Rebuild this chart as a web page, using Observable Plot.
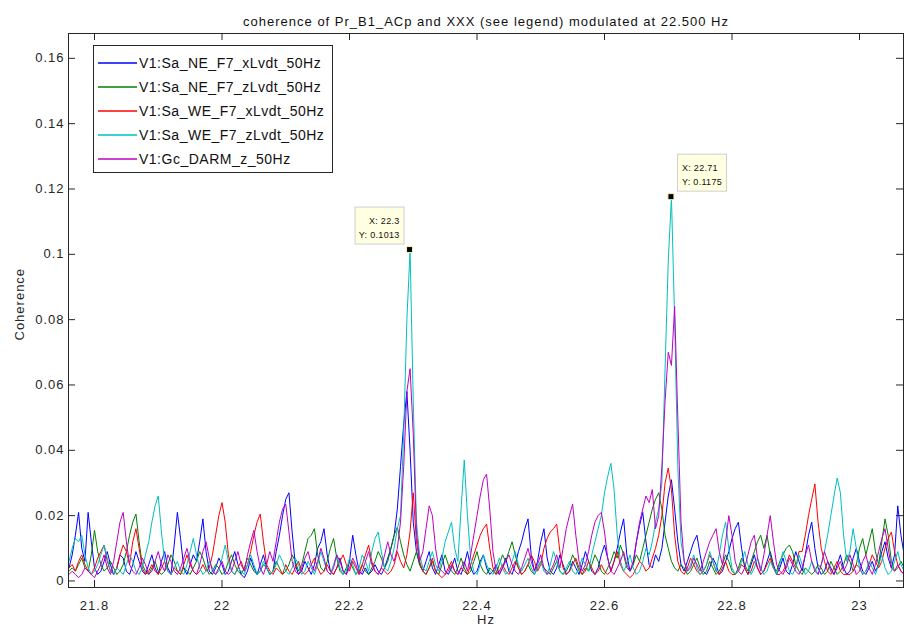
<!DOCTYPE html>
<html><head><meta charset="utf-8">
<script src="https://cdn.jsdelivr.net/npm/d3@7"></script>
<script src="https://cdn.jsdelivr.net/npm/@observablehq/plot@0.6"></script>
<style>html,body{margin:0;padding:0;background:#fff} svg{display:block}</style>
</head><body><div id="chart"></div>
<script>
// ---------- data ----------
const titleText = "coherence of Pr_B1_ACp and XXX (see legend) modulated at 22.500 Hz";
const xLabel = "Hz";
const yLabel = "Coherence";
const xTicks = [21.8, 22, 22.2, 22.4, 22.6, 22.8, 23];
const yTicks = [0, 0.02, 0.04, 0.06, 0.08, 0.1, 0.12, 0.14, 0.16];
const xDomain = [21.7592, 23.069];
const yDomain = [-0.002, 0.1676];

// frequency grid of the spectra (Hz)
const freqStart = 21.76, freqStep = 0.005;

const seriesNames = ["V1:Sa_NE_F7_xLvdt_50Hz", "V1:Sa_NE_F7_zLvdt_50Hz", "V1:Sa_WE_F7_xLvdt_50Hz", "V1:Sa_WE_F7_zLvdt_50Hz", "V1:Gc_DARM_z_50Hz"];
const seriesColors = ["#0000ff", "#008000", "#ff0000", "#00bfbf", "#bf00bf"];

// coherence values, in units of 1e-3
const sa_NE_xLvdt = [4,8,14,21,10,6,21,12,4,2, 3,6,9,5,2,4,8,7,3,2, 5,9,6,3,2,5,8,4,2,6, 9,4,2,11,21,13,4,2,5,8,
 6,12,19,9,3,2,4,7,5,2, 3,6,9,5,2,1,3,7,4,2, 5,8,4,2,3,9,14,20,25,27, 15,5,2,3,6,4,2,5,10,12,
 16,8,3,2,4,7,3,2,6,14, 8,3,2,4,2,3,5,3,2,4, 7,10,14,22,35,48,58,40,18,9, 5,3,6,9,4,2,5,8,3,2,
 4,7,3,2,5,9,4,2,3,6, 8,4,2,3,5,2,4,7,3,2, 5,9,12,16,19,8,3,6,12,16, 7,3,2,4,8,5,2,3,6,4,
 2,5,9,6,3,2,4,8,11,7, 3,6,10,15,19,8,3,5,12,17, 21,12,5,4,8,6,10,18,26,31, 22,12,5,3,6,9,12,14,8,3,
 2,4,7,5,2,3,6,9,13,16, 18,10,4,2,5,8,4,2,3,6, 9,5,2,4,7,3,2,5,9,6, 3,8,14,18,10,4,2,3,6,4,
 2,5,8,4,2,3,7,10,6,3, 2,4,6,3,5,9,12,7,4,8, 23,14,8];
const sa_NE_zLvdt = [3,4,3,5,7,4,3,8,15.5,9, 5,3,4,6,4,2,3,5,9,14, 18,20.5,12,5,3,2,4,6,3,2, 3,5,8,6,3,2,4,3,2,4,
 6,9,7,4,2,3,5,4,2,3, 6,8,5,3,2,4,7,5,3,2, 3,5,4,2,3,6,4,2,3,5, 8,6,3,5,9,13,14,16,8,4,
 3,6,10,13,7,3,2,4,6,4, 2,3,5,3,2,4,6,9,7,4, 6,10,14,16.5,12,8,5,3,6,9, 5,3,2,4,6,3,2,5,8,5,
 3,2,4,7,4,2,3,6,9,5, 3,2,4,3,2,5,8,6,9,12, 8,4,2,3,5,3,2,4,6,4, 3,2,4,6,3,2,3,5,8,6,
 3,2,4,3,5,8,6,3,2,4, 6,9,7,11,8,4,3,5,8,6, 10,14,18,22,25,27,22,14,10,6, 4,3,5,4,2,3,5,7,4,2,
 3,6,4,2,3,5,8,6,3,2, 4,7,5,3,6,9,12,14,10,14, 8,4,3,6,8,10,11,9,5,3, 2,4,3,2,3,5,4,2,3,6,
 4,2,3,5,8,6,3,5,10,13, 8,12,16,9,5,12,19,14,6,3, 4,6,4];
const sa_WE_xLvdt = [4,5,3,6,8,5,3,2,4,7, 9,11,6,3,2,4,8,11,9,5, 12,16,10,4,2,3,5,3,2,4, 6,3,2,4,3,2,5,8,5,3,
 2,3,5,3,4,8,14,20,24,18, 8,3,2,4,6,3,5,9,14,18, 20.5,12,5,3,2,4,3,2,5,3, 2,4,6,3,2,3,5,7,4,2,
 3,5,3,2,4,6,8,5,3,6, 4,2,5,8,11,6,3,2,4,3, 2,3,5,9,6,4,8,15,27,12, 6,3,2,4,7,3,2,1,2,4,
 6,3,2,4,3,2,5,8,11,14, 16,17.4,10,4,2,3,5,3,2,4, 6,4,2,3,5,8,6,3,5,10, 13,15,16,17.4,9,4,2,3,5,7,
 4,2,3,6,4,2,3,5,3,2, 3,6,9,5,3,2,1,2,4,6, 5,3,4,7,10,14,20,30,34.6,28, 14,6,3,2,4,7,5,3,2,3,
 5,8,6,3,2,4,6,3,2,2, 3,5,4,2,3,6,4,2,3,5, 7,4,2,2,3,5,8,6,4,9, 9,14,20,25,29.7,18,10,6,3,2,
 4,6,3,2,2,2,3,5,4,2, 3,5,8,6,4,6,10,13,15,9, 5,3,2];
const sa_WE_zLvdt = [6,10,13,12,14,8,4,2,3,5, 8,11,7,3,2,4,3,2,5,8, 6,3,2,4,8,12,18,23,26,15, 6,3,2,4,6,3,2,5,9,13,
 8,4,2,3,6,4,2,3,7,11, 6,3,2,4,3,2,5,8,5,2, 3,6,4,2,3,5,8,6,3,2, 4,7,5,2,3,6,4,2,5,9,
 6,3,2,5,8,4,2,3,7,5, 2,4,8,6,3,9,13,15,9,4, 3,6,10,16,20,45,80,101.3,55,18, 8,4,3,6,9,5,3,7,12,15,
 18,10,6,22,37,20,7,3,2,5, 8,5,3,2,4,7,4,2,3,6, 9,5,3,5,7,4,2,4,6,3, 2,5,9,6,3,2,4,6,3,2,
 4,7,5,3,8,12,16,20,27,32, 36,28,14,6,3,5,8,4,2,3, 6,10,8,12,18,22,30,65,98,117.5, 80,35,12,6,3,5,8,4,2,3,
 5,9,6,3,8,14,18,10,4,2, 3,6,9,5,2,4,7,4,2,3, 6,4,2,5,9,6,3,2,4,8, 5,2,3,6,4,2,5,9,14,20,
 26,31.5,27,14,6,9,16,10,4,2, 3,6,4,2,5,8,4,2,3,6, 9,5,3];
const gc_DARM_z = [2,3,2,1,2,4,3,2,1,3, 5,8,4,2,6,12,18,21,12,5, 3,2,4,7,5,2,3,6,9,5, 3,8,6,3,2,4,7,10,6,3,
 2,5,9,12,7,3,2,4,6,3, 2,3,6,9,5,3,8,12,15.5,9, 4,2,5,9,6,12,18,22,23.5,15, 6,3,2,4,7,9,5,3,6,10,
 7,3,2,4,8,6,3,2,4,7, 5,2,3,6,9,5,3,2,4,8, 12,8,6,10,18,35,58,65,45,15, 6,9,16,23,20,10,4,3,2,3,
 5,3,2,4,6,3,8,14,20,26, 31,32.7,22,9,3,2,4,6,8,5, 3,2,4,7,10,6,3,5,8,4, 2,3,5,8,4,10,16,20,23.5,14,
 6,3,5,9,14,18,20,21,15,7, 3,2,4,6,9,5,3,6,12,18, 22,26,24,28,16,20,35,55,70,66, 84,50,18,6,3,4,7,5,3,6,
 9,12,14,16,9,5,12,20,14,6, 3,2,4,8,12,14,7,3,8,14, 20,12,5,3,2,4,7,5,3,2, 4,8,11,6,3,2,5,9,6,3,
 2,4,6,3,5,8,5,2,3,6, 8,4,2,5,9,13,16,10,4,3, 5,3,2];
const seriesValues = [sa_NE_xLvdt, sa_NE_zLvdt, sa_WE_xLvdt, sa_WE_zLvdt, gc_DARM_z];

// data tips (on V1:Sa_WE_F7_zLvdt_50Hz)
const tipFreq = [22.295, 22.705];
const tipCoh = [0.1013, 0.1175];
const tipXText = ["22.3", "22.71"];
const tipYText = ["0.1013", "0.1175"];
const tipSide = ["left", "right"];

// ---------- layout / style ----------
const W = 904, H = 632, mT = 33, mB = 45, mL = 68, mR = 1;
const frameW = W - mL - mR, frameH = H - mT - mB, tickLen = 7;
const axisColor = "#262626";
const font = "'Liberation Sans', Arial, Helvetica, sans-serif";

const rows = seriesValues.flatMap((vals, s) => vals.map((v, i) => ({
  series: seriesNames[s], freq: +(freqStart + i * freqStep).toFixed(4), coh: v / 1000
})));

function tipMark(index, scales) {
  const g = d3.create("svg:g").attr("font-family", font).attr("font-size", 9)
    .style("letter-spacing", "0.3px").attr("fill", "#111");
  tipFreq.forEach((f, k) => {
    const px = scales.x(f), py = scales.y(tipCoh[k]);
    const left = tipSide[k] === "left";
    const bw = 49, bh = 37;
    const bx = left ? px - 6 - bw : px + 6;
    const by = py - 6 - bh;
    g.append("rect").attr("x", bx + 0.5).attr("y", by + 0.5).attr("width", bw).attr("height", bh)
      .attr("fill", "#ffffe1").attr("stroke", "#cfcfcf");
    const tx = left ? bx + bw - 4 : bx + 5;
    const anchor = left ? "end" : "start";
    g.append("text").attr("x", tx).attr("y", by + 14).attr("dy", "0.35em").attr("text-anchor", anchor).text("X: " + tipXText[k]);
    g.append("text").attr("x", tx).attr("y", by + 28).attr("dy", "0.35em").attr("text-anchor", anchor).text("Y: " + tipYText[k]);
    g.append("rect").attr("x", px - 3).attr("y", py - 3).attr("width", 6).attr("height", 6)
      .attr("fill", "#000").attr("stroke", "#f4f0c0").attr("stroke-width", 1);
  });
  return g.node();
}

function legendMark(index, scales, values, dims) {
  const x0 = dims.marginLeft + 25, y0 = dims.marginTop + 12, w = 239, h = 127;
  const g = d3.create("svg:g").attr("font-family", font).attr("font-size", 14)
    .attr("text-anchor", "start").style("letter-spacing", "0.5px");
  g.append("rect").attr("x", x0 + 0.5).attr("y", y0 + 0.5).attr("width", w).attr("height", h)
    .attr("fill", "#fff").attr("stroke", axisColor);
  seriesNames.forEach((name, s) => {
    const cy = y0 + 18 + s * 24;
    g.append("line").attr("x1", x0 + 5).attr("x2", x0 + 44).attr("y1", cy).attr("y2", cy)
      .style("stroke", seriesColors[s]).style("stroke-width", "1.3px");
    g.append("text").attr("x", x0 + 46).attr("y", cy).attr("dy", "0.36em")
      .attr("text-anchor", "start").attr("fill", "#111").text(name);
  });
  return g.node();
}

const plot = Plot.plot({
  width: W, height: H,
  marginTop: mT, marginBottom: mB, marginLeft: mL, marginRight: mR,
  style: {fontFamily: font, fontSize: "13px", letterSpacing: "1px", color: axisColor, background: "#fff", overflow: "visible"},
  x: {domain: xDomain},
  y: {domain: yDomain},
  marks: [
    ...seriesNames.map((name, s) => Plot.line(rows.filter(r => r.series === name),
      {x: "freq", y: "coh", stroke: seriesColors[s], strokeWidth: 1, clip: true})),
    Plot.frame({stroke: axisColor}),
    Plot.tickX(xTicks, {x: d => d, insetTop: frameH - tickLen, stroke: axisColor}),
    Plot.tickX(xTicks, {x: d => d, insetBottom: frameH - tickLen, stroke: axisColor}),
    Plot.tickY(yTicks, {y: d => d, insetRight: frameW - tickLen, stroke: axisColor}),
    Plot.tickY(yTicks, {y: d => d, insetLeft: frameW - tickLen, stroke: axisColor}),
    Plot.axisX(xTicks, {anchor: "bottom", tickSize: 0, tickPadding: 13, tickFormat: d => String(d), label: null, color: axisColor}),
    Plot.axisY(yTicks, {anchor: "left", tickSize: 0, tickPadding: 4, tickFormat: d => String(d), label: null, color: axisColor}),
    Plot.text([xLabel], {frameAnchor: "bottom", dy: 36, text: d => d, fill: axisColor, fontSize: 13}),
    Plot.text([yLabel], {frameAnchor: "left", dx: -49, dy: 30, rotate: -90, text: d => d, fill: axisColor, fontSize: 13}),
    Plot.text([titleText], {frameAnchor: "top", dy: -17, text: d => d, fill: "#111", fontSize: 13}),
    legendMark,
    tipMark
  ]
});
document.getElementById("chart").appendChild(plot);
</script>
</body></html>
